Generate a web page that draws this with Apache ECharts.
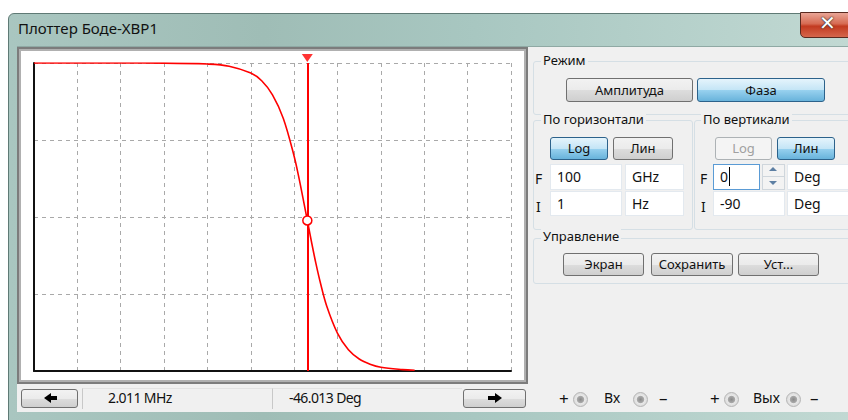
<!DOCTYPE html>
<html><head><meta charset="utf-8">
<script src="https://cdn.jsdelivr.net/npm/echarts@6/dist/echarts.min.js"></script>
<style>
html,body{margin:0;padding:0;width:848px;height:420px;overflow:hidden;background:#fff;font-family:"Noto Sans","DejaVu Sans",sans-serif;}
.a{position:absolute;box-sizing:border-box;}
#frame{left:8px;top:13px;width:850px;height:410px;background:linear-gradient(90deg,#a9c6c0 0%,#9fbdb6 30%,#a8c7c1 55%,#b9d3cd 85%,#c2d9d3 100%);border-top-left-radius:6px;border:1px solid #5f7a75;}
#body{left:17px;top:46px;width:840px;height:366px;background:#f0f0f0;border-top:1px solid #8fa9a4;}
#title{left:18px;top:18px;font-size:15px;color:#111;}
#close{left:800px;top:12px;width:56px;height:26px;border:1px solid #5a2a20;border-radius:0 0 5px 5px;background:linear-gradient(#e9a596 0%,#d66a52 45%,#c23a20 55%,#d5664c 100%);}
#close span{position:absolute;left:18px;top:-2px;font-size:20px;font-weight:bold;color:#fff;text-shadow:0 0 1px #222,0 0 2px #333;font-family:"DejaVu Sans",sans-serif;}
#panel{left:17px;top:47px;width:511px;height:337px;border:2px solid #7c7c7c;background:#d8d8d8;}
#panel2{left:19px;top:49px;width:507px;height:333px;border:2px solid #b0b0b0;background:#fff;}
.grp{position:absolute;box-sizing:border-box;border:1px solid #d5dfe5;border-radius:3px;}
.lbl{position:absolute;font-size:13px;color:#111;background:#f0f0f0;padding:0 2px;line-height:15px;}
.btn{position:absolute;box-sizing:border-box;border:1px solid #707070;border-radius:3px;background:linear-gradient(#f2f2f2 0%,#ebebeb 50%,#dddddd 51%,#cfcfcf 100%);font-size:13px;color:#111;text-align:center;}
.on{border-color:#2c628b;background:linear-gradient(#e5f4fc 0%,#c4e5f6 50%,#98d1ef 51%,#68b3db 100%);}
.dis{border-color:#adb2b5;background:#f4f4f4;color:#a0a0a0;}
.fld{position:absolute;box-sizing:border-box;background:#fff;border:1px solid #e3e9ef;font-size:14px;color:#111;padding-left:6px;}
.sl{position:absolute;font-size:14px;color:#111;}
.pm{position:absolute;font-size:17px;color:#111;line-height:17px;}
.term{position:absolute;width:15px;height:15px;border-radius:50%;box-sizing:border-box;border:1px solid #b5b5b5;background:radial-gradient(circle,#8a8a8a 0%,#a8a8a8 35%,#e8e8e8 45%,#d0d0d0 100%);}
.st{position:absolute;font-size:14px;color:#111;letter-spacing:-0.6px;}
#chart{position:absolute;left:0;top:0;width:848px;height:420px;z-index:5;}
</style></head>
<body>
<div class="a" id="frame"></div>
<div class="a" id="body"></div>
<div class="a" id="title">Плоттер Боде-XBP1</div>
<div class="a" id="close"><span>✕</span></div>
<div class="a" id="panel"></div>
<div class="a" id="panel2"></div>

<!-- Right controls -->
<div class="grp" style="left:533px;top:61px;width:320px;height:54px;"></div>
<div class="lbl" style="left:541px;top:53px;">Режим</div>
<div class="btn" style="left:566px;top:78px;width:127px;height:24px;line-height:22px;">Амплитуда</div>
<div class="btn on" style="left:697px;top:78px;width:128px;height:24px;line-height:22px;">Фаза</div>

<div class="grp" style="left:533px;top:120px;width:160px;height:110px;"></div>
<div class="lbl" style="left:541px;top:112px;">По горизонтали</div>
<div class="grp" style="left:694px;top:120px;width:160px;height:110px;"></div>
<div class="lbl" style="left:701px;top:112px;">По вертикали</div>
<div class="btn on" style="left:550px;top:137px;width:58px;height:23px;line-height:21px;">Log</div>
<div class="btn" style="left:613px;top:137px;width:60px;height:23px;line-height:21px;">Лин</div>
<div class="btn dis" style="left:715px;top:137px;width:57px;height:23px;line-height:21px;">Log</div>
<div class="btn on" style="left:777px;top:137px;width:58px;height:23px;line-height:21px;">Лин</div>

<div class="sl" style="left:535px;top:169px;">F</div>
<div class="fld" style="left:550px;top:164px;width:72px;height:26px;line-height:24px;">100</div>
<div class="fld" style="left:625px;top:164px;width:59px;height:26px;line-height:24px;">GHz</div>
<div class="sl" style="left:536px;top:197px;">I</div>
<div class="fld" style="left:550px;top:191px;width:72px;height:25px;line-height:23px;">1</div>
<div class="fld" style="left:625px;top:191px;width:59px;height:25px;line-height:23px;"> Hz</div>

<div class="sl" style="left:700px;top:169px;">F</div>
<div class="fld" style="left:713px;top:164px;width:47px;height:26px;line-height:24px;border-color:#5a9bd5;">0<span style="border-left:1px solid #000;margin-left:1px;"></span></div>
<div class="a" style="left:762px;top:164px;width:23px;height:26px;border:1px solid #cfd6dc;background:#f3f3f3;"></div>
<div class="a" style="left:769px;top:167px;width:0;height:0;border-left:4px solid transparent;border-right:4px solid transparent;border-bottom:4px solid #5d7fa3;"></div>
<div class="a" style="left:763px;top:176px;width:21px;height:1px;background:#cfd6dc;"></div>
<div class="a" style="left:769px;top:181px;width:0;height:0;border-left:4px solid transparent;border-right:4px solid transparent;border-top:4px solid #5d7fa3;"></div>
<div class="fld" style="left:787px;top:164px;width:62px;height:26px;line-height:24px;">Deg</div>
<div class="sl" style="left:701px;top:197px;">I</div>
<div class="fld" style="left:713px;top:191px;width:72px;height:25px;line-height:23px;">-90</div>
<div class="fld" style="left:787px;top:191px;width:62px;height:25px;line-height:23px;">Deg</div>

<div class="grp" style="left:533px;top:238px;width:320px;height:46px;"></div>
<div class="lbl" style="left:541px;top:229px;">Управление</div>
<div class="btn" style="left:563px;top:253px;width:81px;height:23px;line-height:21px;">Экран</div>
<div class="btn" style="left:651px;top:253px;width:82px;height:23px;line-height:21px;">Сохранить</div>
<div class="btn" style="left:738px;top:253px;width:81px;height:23px;line-height:21px;">Уст...</div>

<!-- Status bar -->
<div class="btn" style="left:21px;top:389px;width:57px;height:19px;"></div>
<div class="a" style="left:44px;top:393px;width:0;height:0;border-top:5px solid transparent;border-bottom:5px solid transparent;border-right:7px solid #000;"></div>
<div class="a" style="left:50px;top:396px;width:7px;height:4px;background:#000;"></div>
<div class="a" style="left:82px;top:388px;width:190px;height:21px;border-left:1px solid #c8c8c8;border-top:1px solid #e2e2e2;"></div>
<div class="a" style="left:272px;top:388px;width:190px;height:21px;border-left:1px solid #c8c8c8;border-top:1px solid #e2e2e2;"></div>
<div class="st" style="left:108px;top:388px;">2.011 MHz</div>
<div class="st" style="left:289px;top:388px;">-46.013 Deg</div>
<div class="btn" style="left:463px;top:389px;width:63px;height:19px;"></div>
<div class="a" style="left:488px;top:396px;width:7px;height:4px;background:#000;"></div>
<div class="a" style="left:495px;top:393px;width:0;height:0;border-top:5px solid transparent;border-bottom:5px solid transparent;border-left:7px solid #000;"></div>

<div class="pm" style="left:559px;top:390px;">+</div>
<div class="term" style="left:573px;top:392px;"></div>
<div class="sl" style="left:604px;top:388px;">Вх</div>
<div class="term" style="left:633px;top:392px;"></div>
<div class="pm" style="left:659px;top:389px;">–</div>
<div class="pm" style="left:710px;top:390px;">+</div>
<div class="term" style="left:724px;top:392px;"></div>
<div class="sl" style="left:753px;top:388px;">Вых</div>
<div class="term" style="left:786px;top:392px;"></div>
<div class="pm" style="left:810px;top:389px;">–</div>

<div id="chart"></div>
<script>
// Phase response (Hz, degrees)
const freqHz = [1, 10, 100, 1e3, 1e4, 3.16e4, 1e5, 1.78e5, 3.16e5, 5.62e5, 1e6, 1.26e6, 1.58e6, 2.011e6, 2.51e6, 3.16e6, 3.98e6, 5.62e6, 1e7, 1.78e7, 3.16e7, 5.62e7, 1e8, 3.16e8, 6e8];
const phaseDeg = [0, 0, 0, -0.03, -0.3, -0.93, -2.95, -5.2, -9.3, -16.2, -27.3, -33.0, -39.2, -46.0, -52.3, -58.5, -64.0, -71.0, -79.0, -83.8, -86.5, -88.0, -88.9, -89.6, -89.8];
// Axis settings from the controls
const freqMin = 1, freqMax = 1e11;
const phaseMin = -90, phaseMax = 0, phaseStep = 22.5;
// Cursor readout
const cursorFreq = 2.011e6, cursorPhase = -46.013;

const chart = echarts.init(document.getElementById('chart'), null, {renderer: 'canvas'});
const curve = freqHz.map((f, i) => [f, phaseDeg[i]]);
const dash = {color: '#a9a9a9', width: 1, type: [4, 4]};
chart.setOption({
  backgroundColor: 'transparent',
  animation: false,
  grid: {left: 34, top: 63, width: 477, height: 308, containLabel: false},
  xAxis: {
    type: 'log', logBase: 10, min: freqMin, max: freqMax, interval: 1,
    axisLine: {show: true, onZero: false, lineStyle: {color: '#111', width: 2}},
    axisTick: {show: false}, axisLabel: {show: false},
    splitLine: {show: true, lineStyle: dash}
  },
  yAxis: {
    type: 'value', min: phaseMin, max: phaseMax, interval: phaseStep,
    axisLine: {show: true, lineStyle: {color: '#111', width: 2}},
    axisTick: {show: false}, axisLabel: {show: false},
    splitLine: {show: true, lineStyle: dash}
  },
  series: [
    {
      type: 'line', data: curve, smooth: 0.35, showSymbol: false, symbol: 'none',
      lineStyle: {color: '#ff0000', width: 1.6}, z: 3, clip: true,
      markLine: {
        silent: true, symbol: ['none', 'none'], animation: false,
        label: {show: false},
        lineStyle: {color: '#ff0000', width: 2, type: 'solid'},
        data: [{xAxis: cursorFreq}]
      }
    },
    {
      type: 'scatter', data: [[cursorFreq, cursorPhase]], symbol: 'circle', symbolSize: 9,
      itemStyle: {color: '#ffffff', borderColor: '#ff0000', borderWidth: 1.5, opacity: 1}, z: 10
    },
    {
      type: 'scatter', data: [[cursorFreq, phaseMax]], symbol: 'triangle', symbolRotate: 180,
      symbolSize: [11, 8], symbolOffset: [0, -5], clip: false,
      itemStyle: {color: '#ff0000'}, z: 10
    }
  ]
});
</script>
</body></html>
